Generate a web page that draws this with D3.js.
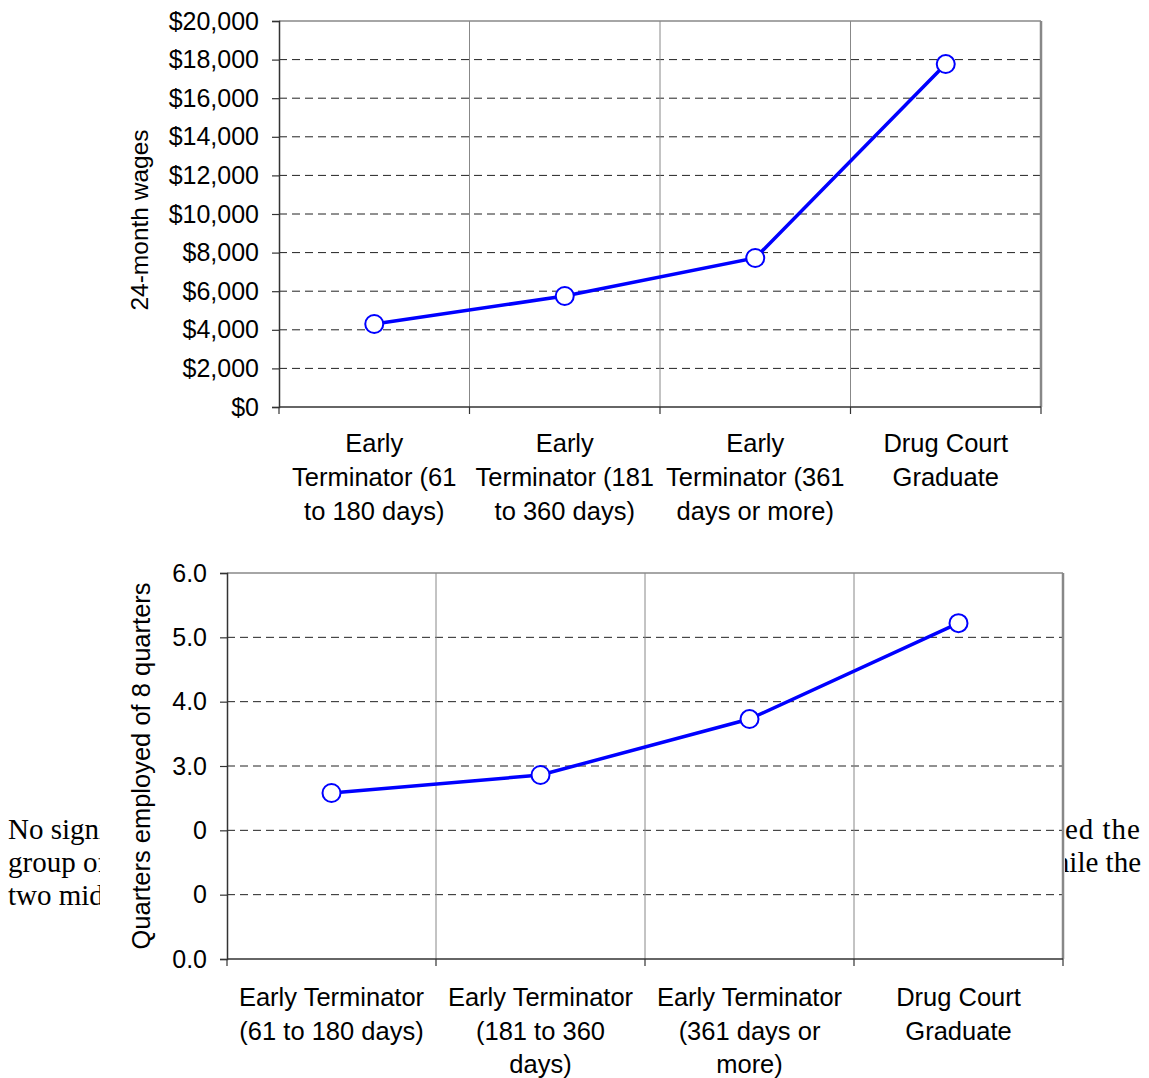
<!DOCTYPE html>
<html>
<head>
<meta charset="utf-8">
<script src="https://cdn.jsdelivr.net/npm/d3@7"></script>
<style>
  body { margin: 0; background: #fff; }
  svg { display: block; }
  text { font-family: "Liberation Sans", Arial, sans-serif; fill: #000; }
</style>
</head>
<body>
<script>
// chart values
var wageLabels = [
  ["Early", "Terminator (61", "to 180 days)"],
  ["Early", "Terminator (181", "to 360 days)"],
  ["Early", "Terminator (361", "days or more)"],
  ["Drug Court", "Graduate"]
];
var wageValues = [4300, 5750, 7720, 17770];
var wageTicks = [0, 2000, 4000, 6000, 8000, 10000, 12000, 14000, 16000, 18000, 20000];
var wageTickLabels = ["$0", "$2,000", "$4,000", "$6,000", "$8,000", "$10,000",
                      "$12,000", "$14,000", "$16,000", "$18,000", "$20,000"];

var qtrLabels = [
  ["Early Terminator", "(61 to 180 days)"],
  ["Early Terminator", "(181 to 360", "days)"],
  ["Early Terminator", "(361 days or", "more)"],
  ["Drug Court", "Graduate"]
];
var qtrValues = [2.58, 2.86, 3.73, 5.22];
var qtrTicks = [0, 1, 2, 3, 4, 5, 6];
// labels for 1.0 and 2.0 are half covered by the page text in the source
var qtrTickLabels = ["0.0", "0", "0", "3.0", "4.0", "5.0", "6.0"];

// bits of the report text showing around the second chart
var leftText = ["No significant", "group of", "two middle"];
var rightText = ["ed the", "while the"];

var svg = d3.select("body").append("svg")
            .attr("width", 1149)
            .attr("height", 1078);

// page text behind the lower chart, clipped by the chart box
var defs = svg.append("defs");
defs.append("clipPath").attr("id", "clipL")
    .append("rect").attr("x", 0).attr("y", 780).attr("width", 100).attr("height", 160);
defs.append("clipPath").attr("id", "clipR")
    .append("rect").attr("x", 1065).attr("y", 780).attr("width", 84).attr("height", 160);

svg.append("g").attr("clip-path", "url(#clipL)")
   .selectAll("text").data(leftText).enter().append("text")
   .attr("x", 8)
   .attr("y", function(d, i) { return 839 + i * 33; })
   .style("font-family", "'Liberation Serif', 'Times New Roman', serif")
   .style("font-size", "29px")
   .text(function(d) { return d; });

svg.append("g").attr("clip-path", "url(#clipR)")
   .selectAll("text").data(rightText).enter().append("text")
   .attr("x", 1141)
   .attr("y", function(d, i) { return 839 + i * 33; })
   .attr("text-anchor", "end")
   .style("font-family", "'Liberation Serif', 'Times New Roman', serif")
   .style("font-size", "29px")
   .style("letter-spacing", function(d, i) { return i == 0 ? "1px" : "0px"; })
   .text(function(d) { return d; });

function drawChart(cfg) {
  var g = svg.append("g");
  var x = d3.scaleBand().domain(d3.range(cfg.labels.length))
            .range([cfg.left, cfg.right]);
  var y = d3.scaleLinear().domain(cfg.domain).range([cfg.bottom, cfg.top]);

  // white chart box so the page text is hidden behind it
  g.append("rect")
   .attr("x", cfg.left).attr("y", cfg.top)
   .attr("width", cfg.right - cfg.left).attr("height", cfg.bottom - cfg.top)
   .attr("fill", "#fff");

  // dashed horizontal grid
  g.selectAll(".hgrid").data(cfg.ticks.slice(1, -1)).enter().append("line")
   .attr("x1", cfg.left).attr("x2", cfg.right)
   .attr("y1", function(d) { return y(d); })
   .attr("y2", function(d) { return y(d); })
   .attr("stroke", "#222").attr("stroke-width", 1)
   .attr("stroke-dasharray", "8,5");

  // vertical grid at category boundaries
  g.selectAll(".vgrid").data(d3.range(1, cfg.labels.length)).enter().append("line")
   .attr("x1", function(d) { return x(d); })
   .attr("x2", function(d) { return x(d); })
   .attr("y1", cfg.top).attr("y2", cfg.bottom)
   .attr("stroke", "#888").attr("stroke-width", 1);

  // top and right border
  g.append("line").attr("x1", cfg.left).attr("x2", cfg.right)
   .attr("y1", cfg.top).attr("y2", cfg.top)
   .attr("stroke", "#888").attr("stroke-width", 1.5);
  g.append("line").attr("x1", cfg.right).attr("x2", cfg.right)
   .attr("y1", cfg.top).attr("y2", cfg.bottom)
   .attr("stroke", "#888").attr("stroke-width", 2.5);

  // y axis
  var yAxis = d3.axisLeft(y).tickValues(cfg.ticks)
                .tickSize(7).tickPadding(13)
                .tickFormat(function(d, i) { return cfg.tickLabels[i]; });
  var ya = g.append("g").attr("transform", "translate(" + cfg.left + ",0)").call(yAxis);
  ya.select(".domain").attr("stroke", "#333").attr("stroke-width", 1.5);
  ya.selectAll(".tick line").attr("stroke", "#333").attr("stroke-width", 1.2);
  ya.selectAll("text").style("font-size", "25px")
    .style("font-family", "'Liberation Sans', Arial, sans-serif").attr("fill", "#000");

  // x axis line and ticks at band edges
  g.append("line").attr("x1", cfg.left).attr("x2", cfg.right)
   .attr("y1", cfg.bottom).attr("y2", cfg.bottom)
   .attr("stroke", "#333").attr("stroke-width", 1.5);
  var edges = d3.range(cfg.labels.length).map(function(i) { return x(i); }).concat([cfg.right]);
  g.selectAll(".xtick").data(edges).enter().append("line")
   .attr("x1", function(d) { return d; }).attr("x2", function(d) { return d; })
   .attr("y1", cfg.bottom).attr("y2", cfg.bottom + 7)
   .attr("stroke", "#333").attr("stroke-width", 1.2);

  // category labels
  var lab = g.selectAll(".xlab").data(cfg.labels).enter().append("text")
   .attr("text-anchor", "middle")
   .style("font-size", "25.5px");
  lab.selectAll("tspan").data(function(d, i) {
      return d.map(function(s, j) { return { s: s, i: i, j: j }; });
    }).enter().append("tspan")
   .attr("x", function(d) { return x(d.i) + x.bandwidth() / 2; })
   .attr("y", function(d) { return cfg.labelY + d.j * cfg.lineGap; })
   .text(function(d) { return d.s; });

  // y title
  g.append("text")
   .attr("transform", "translate(" + cfg.titleX + "," + ((cfg.top + cfg.bottom) / 2 + cfg.titleShift) + ") rotate(-90)")
   .attr("text-anchor", "middle")
   .style("font-size", cfg.titleSize)
   .text(cfg.title);

  // series
  var line = d3.line()
               .x(function(d, i) { return x(i) + x.bandwidth() / 2; })
               .y(function(d) { return y(d); });
  g.append("path").datum(cfg.values)
   .attr("d", line)
   .attr("fill", "none").attr("stroke", "#0000ff").attr("stroke-width", 3.5);
  g.selectAll(".pt").data(cfg.values).enter().append("circle")
   .attr("cx", function(d, i) { return x(i) + x.bandwidth() / 2; })
   .attr("cy", function(d) { return y(d); })
   .attr("r", 9)
   .attr("fill", "#fff").attr("stroke", "#0000ff").attr("stroke-width", 2);
}

drawChart({
  labels: wageLabels, values: wageValues, ticks: wageTicks, tickLabels: wageTickLabels,
  domain: [0, 20000], left: 279, right: 1041, top: 21, bottom: 407,
  labelY: 452, lineGap: 34, title: "24-month wages", titleX: 148, titleShift: 6, titleSize: "24.5px"
});

drawChart({
  labels: qtrLabels, values: qtrValues, ticks: qtrTicks, tickLabels: qtrTickLabels,
  domain: [0, 6], left: 227, right: 1063, top: 573, bottom: 959,
  labelY: 1006, lineGap: 33.5, title: "Quarters employed of 8 quarters", titleX: 150, titleShift: 0, titleSize: "25.5px"
});
</script>
</body>
</html>
